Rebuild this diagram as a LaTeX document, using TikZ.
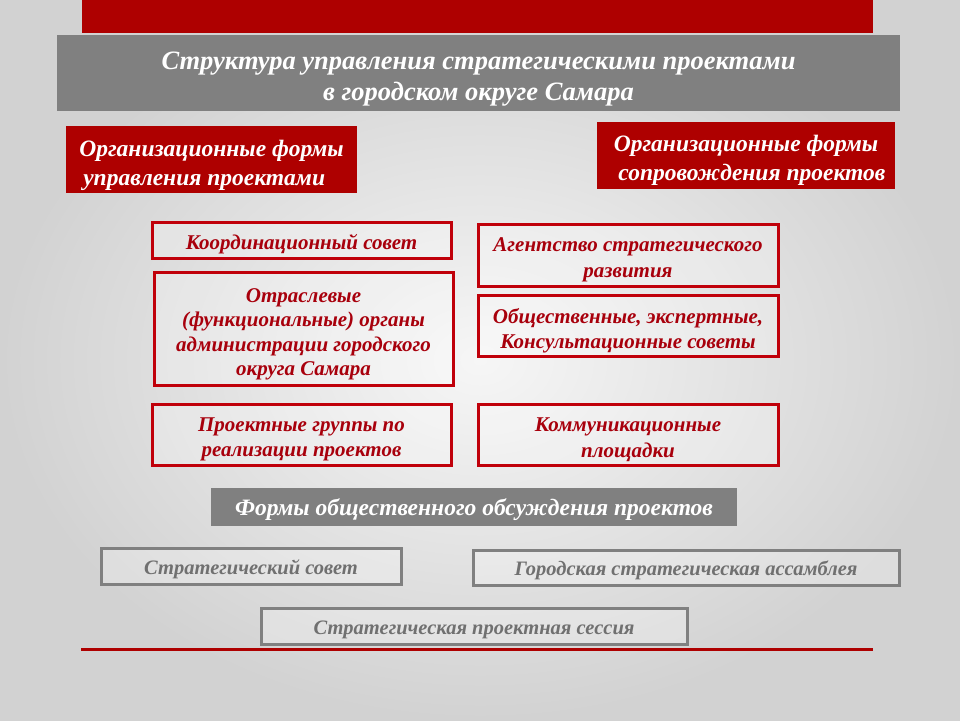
\documentclass[tikz,border=0pt]{standalone}
\usepackage{fontspec}
\setmainfont{Liberation Serif}
\definecolor{topred}{RGB}{174,0,0}
\definecolor{boxred}{RGB}{192,0,10}
\definecolor{txtred}{RGB}{168,0,12}
\definecolor{bargray}{RGB}{128,128,128}
\definecolor{txtgray}{RGB}{112,112,112}
\definecolor{bgin}{RGB}{246,246,246}
\definecolor{bgout}{RGB}{210,210,210}
\tikzset{
  graybar/.style={fill=bargray, inner sep=0pt},
  headbox/.style={fill=topred, inner sep=0pt},
  whitetext/.style={text=white, inner sep=0pt, font=\bfseries\itshape},
  redframe/.style={draw=boxred, line width=3pt, fill=white, fill opacity=0.25, inner sep=0pt},
  redtext/.style={text=txtred, inner sep=0pt, align=center,
    font=\fontsize{21}{25.5}\selectfont\bfseries\itshape},
  grayframe/.style={draw=bargray, line width=3pt, fill=white, fill opacity=0.25, inner sep=0pt},
  graytext/.style={text=txtgray, inner sep=0pt, align=center,
    font=\fontsize{20.5}{24}\selectfont\bfseries\itshape},
}
\begin{document}
\begin{tikzpicture}[x=1pt,y=-1pt]
\useasboundingbox (0,0) rectangle (960,720);
\shade[inner color=bgin, outer color=bgout] (0,0) rectangle (960,720);
\fill[topred] (82,0) rectangle (873,33);
% title
\node[graybar, minimum width=843pt, minimum height=76pt] (title) at (478.5,73) {};
\node[whitetext, align=center, yshift=-6pt, font=\fontsize{26.5}{31}\selectfont\bfseries\itshape] (titleT) at (title)
  {Структура управления стратегическими проектами\\в городском округе Самара};
% headers
\node[headbox, minimum width=291pt, minimum height=67pt] (lh) at (211.5,159.5) {};
\node[whitetext, align=left, yshift=-6pt, font=\fontsize{23.5}{29}\selectfont\bfseries\itshape] (lhT) at (lh)
  {Организационные формы\\\,управления проектами};
\node[headbox, minimum width=298pt, minimum height=67pt] (rh) at (746,155.5) {};
\node[whitetext, align=center, yshift=-5pt, font=\fontsize{23.5}{29}\selectfont\bfseries\itshape] (rhT) at (rh)
  {Организационные формы\\\ \ сопровождения проектов};
% red boxes
\node[redframe, minimum width=299pt, minimum height=36pt] (kc) at (301.5,240) {};
\node[redtext, yshift=-4pt] (kcT) at (kc) {Координационный совет};
\node[redframe, minimum width=299pt, minimum height=113pt] (os) at (303.5,328.5) {};
\node[redtext, yshift=-6pt, font=\fontsize{21}{24.5}\selectfont\bfseries\itshape] (osT) at (os)
  {Отраслевые\\(функциональные) органы\\администрации городского\\округа Самара};
\node[redframe, minimum width=300pt, minimum height=62pt] (as) at (628,255) {};
\node[redtext, yshift=-5pt] (asT) at (as) {Агентство стратегического\\развития};
\node[redframe, minimum width=300pt, minimum height=61pt] (ob) at (628,325.5) {};
\node[redtext, yshift=-5pt] (obT) at (ob) {Общественные, экспертные,\\Консультационные советы};
\node[redframe, minimum width=299pt, minimum height=61pt] (pg) at (301.5,434.5) {};
\node[redtext, yshift=-5pt] (pgT) at (pg) {Проектные группы по\\реализации проектов};
\node[redframe, minimum width=300pt, minimum height=61pt] (kp) at (628,434.5) {};
\node[redtext, yshift=-5pt] (kpT) at (kp) {Коммуникационные\\площадки};
% public discussion
\node[graybar, minimum width=526pt, minimum height=38pt] (ff) at (474,507) {};
\node[whitetext, yshift=-3pt, font=\fontsize{23.5}{28}\selectfont\bfseries\itshape] (ffT) at (ff)
  {Формы общественного обсуждения проектов};
\node[grayframe, minimum width=300pt, minimum height=36pt] (sc) at (251,566) {};
\node[graytext, yshift=-3pt] (scT) at (sc) {Стратегический совет};
\node[grayframe, minimum width=426pt, minimum height=35pt] (ga) at (686,567.5) {};
\node[graytext, yshift=-3pt] (gaT) at (ga) {Городская стратегическая ассамблея};
\node[grayframe, minimum width=426pt, minimum height=36pt] (sp) at (474,626) {};
\node[graytext, yshift=-4pt] (spT) at (sp) {Стратегическая проектная сессия};
\draw[topred, line width=3pt] (81,649.5) -- (873,649.5);
\end{tikzpicture}
\end{document}
